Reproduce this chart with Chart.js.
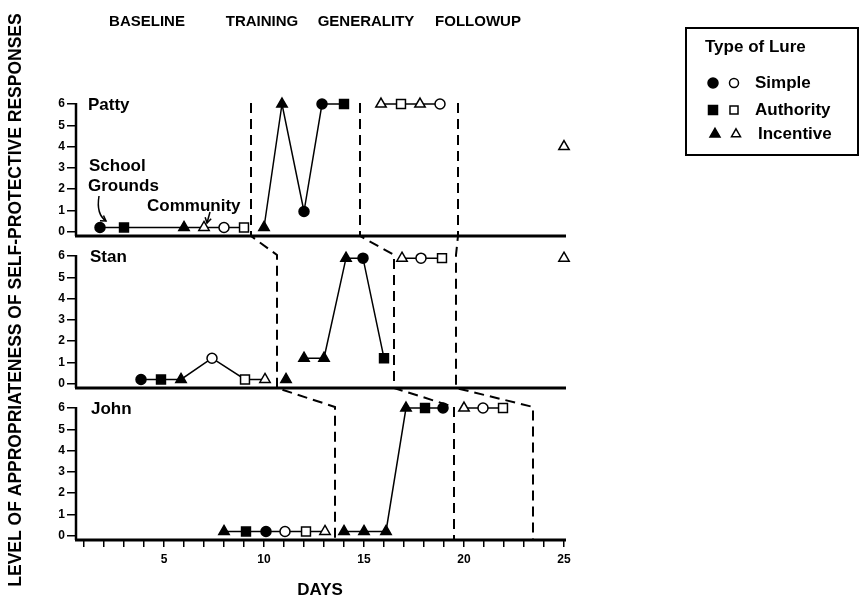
<!DOCTYPE html>
<html>
<head>
<meta charset="utf-8">
<script src="https://cdn.jsdelivr.net/npm/chart.js@4.4.1/dist/chart.umd.min.js"></script>
<style>
  html, body { margin: 0; padding: 0; background: #fff; }
  #wrap { position: relative; width: 861px; height: 602px; }
</style>
</head>
<body>
<div id="wrap"><canvas id="lureChart" width="861" height="602"></canvas></div>
<script>
// lure: S = simple, A = authority, I = incentive
// setting: F = school grounds (filled marker), O = community (open marker)
// run: sessions sharing a run number are joined by a line

const pattyDays    = [1.8, 3, 6, 7, 8, 9, 10, 10.9, 12, 12.9, 14, 15.85, 16.85, 17.8, 18.8, 25];
const pattyLevel   = [0.2, 0.2, 0.2, 0.2, 0.2, 0.2, 0.2, 6, 0.95, 6, 6, 6, 6, 6, 6, 4];
const pattyLure    = ['S', 'A', 'I', 'I', 'S', 'A', 'I', 'I', 'S', 'S', 'A', 'I', 'A', 'I', 'S', 'I'];
const pattySetting = ['F', 'F', 'F', 'O', 'O', 'O', 'F', 'F', 'F', 'F', 'F', 'O', 'O', 'O', 'O', 'O'];
const pattyRun     = [0, 0, 0, 0, 0, 0, 1, 1, 1, 1, 1, 2, 2, 2, 2, 3];

const stanDays    = [3.85, 4.85, 5.85, 7.4, 9.05, 10.05, 11.1, 12, 13, 14.1, 14.95, 16, 16.9, 17.85, 18.9, 25];
const stanLevel   = [0.2, 0.2, 0.2, 1.2, 0.2, 0.2, 0.2, 1.2, 1.2, 5.9, 5.9, 1.2, 5.9, 5.9, 5.9, 5.9];
const stanLure    = ['S', 'A', 'I', 'S', 'A', 'I', 'I', 'I', 'I', 'I', 'S', 'A', 'I', 'S', 'A', 'I'];
const stanSetting = ['F', 'F', 'F', 'O', 'O', 'O', 'F', 'F', 'F', 'F', 'F', 'F', 'O', 'O', 'O', 'O'];
const stanRun     = [0, 0, 0, 0, 0, 0, 1, 2, 2, 2, 2, 2, 3, 3, 3, 4];

const johnDays    = [8, 9.1, 10.1, 11.05, 12.1, 13.05, 14, 15, 16.1, 17.1, 18.05, 18.95, 20, 20.95, 21.95];
const johnLevel   = [0.2, 0.2, 0.2, 0.2, 0.2, 0.2, 0.2, 0.2, 0.2, 6, 6, 6, 6, 6, 6];
const johnLure    = ['I', 'A', 'S', 'S', 'A', 'I', 'I', 'I', 'I', 'I', 'A', 'S', 'I', 'S', 'A'];
const johnSetting = ['F', 'F', 'F', 'O', 'O', 'O', 'F', 'F', 'F', 'F', 'F', 'F', 'O', 'O', 'O'];
const johnRun     = [0, 0, 0, 0, 0, 0, 1, 1, 1, 1, 1, 1, 2, 2, 2];

// phase change lines, day position in the Patty, Stan and John panels
const phaseLines = [
    [9.35, 10.65, 13.55],
    [14.8, 16.5, 19.5],
    [19.7, 19.6, 23.45]
];
const phaseNames = ['BASELINE', 'TRAINING', 'GENERALITY', 'FOLLOWUP'];
const panelNames = ['Patty', 'Stan', 'John'];
const lureNames = ['Simple', 'Authority', 'Incentive'];
const levelTicks = [0, 1, 2, 3, 4, 5, 6];
const dayLabels = [5, 10, 15, 20, 25];

const FONT = '"Liberation Sans", Arial, Helvetica, sans-serif';
const styleOf = { S: 'circle', A: 'rect', I: 'triangle' };
const radiusOf = { S: 5, A: 6.3, I: 6 };

function panelDataset(name, axis, days, level, lure, setting, run) {
    return {
        label: name,
        yAxisID: axis,
        data: days.map((d, i) => ({ x: d, y: level[i] })),
        borderColor: '#000',
        borderWidth: 1.5,
        pointStyle: lure.map(l => styleOf[l]),
        pointRadius: lure.map(l => radiusOf[l]),
        pointBackgroundColor: setting.map(s => s === 'F' ? '#000' : '#fff'),
        pointBorderColor: '#000',
        pointBorderWidth: 1.5,
        segment: {
            borderColor: c => run[c.p0DataIndex] === run[c.p1DataIndex] ? '#000' : 'rgba(0,0,0,0)'
        },
        clip: false,
        tension: 0
    };
}

function panelAxis(weight) {
    return {
        type: 'linear',
        position: 'left',
        stack: 'panels',
        stackWeight: 1,
        weight: weight,
        min: -0.2,
        max: 6.94,
        afterFit: s => { s.width = 20; },
        afterBuildTicks: s => { s.ticks = levelTicks.map(v => ({ value: v })); },
        ticks: {
            autoSkip: false,
            color: '#000',
            font: { family: FONT, size: 12, weight: 'bold' },
            padding: 2
        },
        grid: { drawOnChartArea: false, color: '#000', lineWidth: 1.5, tickLength: 9 },
        border: { display: false }
    };
}

function marker(ctx, style, x, y, r, filled) {
    ctx.beginPath();
    if (style === 'circle') {
        ctx.arc(x, y, r, 0, Math.PI * 2);
    } else if (style === 'rect') {
        ctx.rect(x - r, y - r, 2 * r, 2 * r);
    } else {
        ctx.moveTo(x, y - r * 1.15);
        ctx.lineTo(x + r, y + r * 0.6);
        ctx.lineTo(x - r, y + r * 0.6);
        ctx.closePath();
    }
    ctx.fillStyle = filled ? '#000' : '#fff';
    ctx.fill();
    ctx.lineWidth = 1.5;
    ctx.strokeStyle = '#000';
    ctx.stroke();
}

function arrowHead(ctx, x, y, angle) {
    ctx.beginPath();
    ctx.moveTo(x + Math.cos(angle + 2.6) * 6, y + Math.sin(angle + 2.6) * 6);
    ctx.lineTo(x, y);
    ctx.lineTo(x + Math.cos(angle - 2.6) * 6, y + Math.sin(angle - 2.6) * 6);
    ctx.stroke();
}

const decor = {
    id: 'decor',
    beforeDatasetsDraw(chart) {
        const ctx = chart.ctx;
        const xs = chart.scales.x;
        const area = chart.chartArea;
        const panels = ['yPatty', 'yStan', 'yJohn'].map(id => chart.scales[id]);
        ctx.save();
        ctx.strokeStyle = '#000';
        panels.forEach(s => {
            const yb = s.getPixelForValue(s.min);
            ctx.lineWidth = 3;
            ctx.beginPath();
            ctx.moveTo(area.left - 1, yb);
            ctx.lineTo(xs.getPixelForValue(25) + 2, yb);
            ctx.stroke();
            ctx.lineWidth = 2.5;
            ctx.beginPath();
            ctx.moveTo(area.left, s.getPixelForValue(6) - 1);
            ctx.lineTo(area.left, yb);
            ctx.stroke();
        });
        // dashed phase change lines stepping down through the panels
        ctx.setLineDash([10, 6]);
        ctx.lineWidth = 2;
        phaseLines.forEach(days => {
            ctx.beginPath();
            days.forEach((d, p) => {
                const x = xs.getPixelForValue(d);
                const s = panels[p];
                const yt = s.getPixelForValue(6.05);
                if (p === 0) ctx.moveTo(x, yt); else ctx.lineTo(x, yt);
                ctx.lineTo(x, s.getPixelForValue(s.min));
            });
            ctx.stroke();
        });
        ctx.restore();
    },
    afterDraw(chart) {
        const ctx = chart.ctx;
        const panels = ['yPatty', 'yStan', 'yJohn'].map(id => chart.scales[id]);
        ctx.save();
        ctx.fillStyle = '#000';
        ctx.strokeStyle = '#000';
        ctx.textBaseline = 'middle';

        // phase headings
        ctx.font = 'bold 15px ' + FONT;
        ctx.textAlign = 'center';
        [147, 262, 366, 478].forEach((x, i) => ctx.fillText(phaseNames[i], x, 22));

        // panel names
        ctx.font = 'bold 17px ' + FONT;
        ctx.textAlign = 'left';
        [88, 90, 91].forEach((x, i) => ctx.fillText(panelNames[i], x, panels[i].getPixelForValue(6) + 1));

        // setting annotations
        ctx.fillText('School', 89, 166);
        ctx.fillText('Grounds', 88, 186);
        ctx.fillText('Community', 147, 206);
        ctx.lineWidth = 1.5;
        ctx.beginPath();
        ctx.moveTo(99, 196);
        ctx.quadraticCurveTo(96, 214, 106, 221);
        ctx.stroke();
        arrowHead(ctx, 106, 221, 0.6);
        ctx.beginPath();
        ctx.moveTo(210, 212);
        ctx.lineTo(207, 223);
        ctx.stroke();
        arrowHead(ctx, 207, 223, 1.8);

        // axis titles
        ctx.textAlign = 'center';
        ctx.fillText('DAYS', 320, 590);
        ctx.save();
        ctx.translate(16, 300);
        ctx.rotate(-Math.PI / 2);
        ctx.font = 'bold 17.5px ' + FONT;
        ctx.fillText('LEVEL OF APPROPRIATENESS OF SELF-PROTECTIVE RESPONSES', 0, 0);
        ctx.restore();

        // lure legend
        ctx.lineWidth = 2;
        ctx.strokeRect(686, 28, 172, 127);
        ctx.textAlign = 'left';
        ctx.fillText('Type of Lure', 705, 47);
        const rows = [83, 110, 134];
        ['S', 'A', 'I'].forEach((l, i) => {
            const y = rows[i];
            const r = l === 'A' ? 4.5 : 5;
            const dx = l === 'I' ? 2 : 0;
            marker(ctx, styleOf[l], 713 + dx, y, r, true);
            marker(ctx, styleOf[l], 734 + dx, y, r - 0.5, false);
            ctx.fillStyle = '#000';
            ctx.fillText(lureNames[i], 755 + dx + (l === 'I' ? 1 : 0), y);
        });
        ctx.restore();
    }
};

new Chart(document.getElementById('lureChart'), {
    type: 'line',
    data: {
        datasets: [
            panelDataset('Patty', 'yPatty', pattyDays, pattyLevel, pattyLure, pattySetting, pattyRun),
            panelDataset('Stan', 'yStan', stanDays, stanLevel, stanLure, stanSetting, stanRun),
            panelDataset('John', 'yJohn', johnDays, johnLevel, johnLure, johnSetting, johnRun)
        ]
    },
    options: {
        responsive: false,
        animation: false,
        devicePixelRatio: 1,
        layout: { padding: { left: 56, right: 297, top: 84, bottom: 0 } },
        plugins: { legend: { display: false }, tooltip: { enabled: false } },
        scales: {
            x: {
                type: 'linear',
                min: 0.6,
                max: 25,
                afterFit: s => { s.height = 62; },
                afterBuildTicks: s => {
                    s.ticks = [];
                    for (let d = 1; d <= 25; d++) s.ticks.push({ value: d });
                },
                ticks: {
                    autoSkip: false,
                    maxRotation: 0,
                    color: '#000',
                    padding: 5,
                    font: { family: FONT, size: 12, weight: 'bold' },
                    callback: v => dayLabels.includes(v) ? String(v) : ''
                },
                grid: { drawOnChartArea: false, color: '#000', lineWidth: 1.5, tickLength: 7 },
                border: { display: false }
            },
            yPatty: panelAxis(3),
            yStan: panelAxis(2),
            yJohn: panelAxis(1)
        }
    },
    plugins: [decor]
});
</script>
</body>
</html>
